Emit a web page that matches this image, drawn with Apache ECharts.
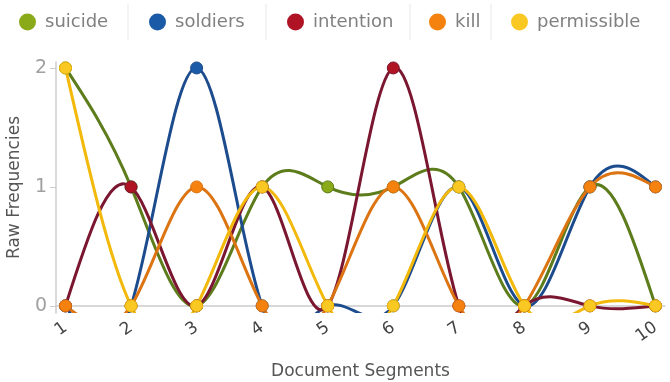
<!DOCTYPE html>
<html>
<head>
<meta charset="utf-8">
<script src="https://cdn.jsdelivr.net/npm/echarts@6/dist/echarts.min.js"></script>
<style>
  html, body { margin: 0; padding: 0; background: #fff; }
  #chart { width: 670px; height: 382px; }
</style>
</head>
<body>
<div id="chart"></div>
<script>
const segments = [1, 2, 3, 4, 5, 6, 7, 8, 9, 10];
const yTicks = [0, 1, 2];

const suicide = [2, 1, 0, 1, 1, 1, 1, 0, 1, 0];
const soldiers = [0, 0, 2, 0, 0, 0, 1, 0, 1, 1];
const intention = [0, 1, 0, 1, 0, 2, 0, 0, 0, 0];
const kill = [0, 0, 1, 0, 0, 1, 0, 0, 1, 1];
const permissible = [2, 0, 0, 1, 0, 0, 1, 0, 0, 0];

const seriesDefs = [
  { name: 'suicide', data: suicide, dot: '#8aaa1a', line: '#5d7c1c', left: 14 },
  { name: 'soldiers', data: soldiers, dot: '#1a5aa6', line: '#1c4c8e', left: 144 },
  { name: 'intention', data: intention, dot: '#b01424', line: '#7a1630', left: 282 },
  { name: 'kill', data: kill, dot: '#f5820e', line: '#dc7412', left: 424 },
  { name: 'permissible', data: permissible, dot: '#f9c823', line: '#f2b90a', left: 506 }
];

// natural cubic spline control points (same scheme as d3.curveNatural)
function controlPoints(x) {
  const n = x.length - 1;
  const a = new Array(n), b = new Array(n), r = new Array(n);
  a[0] = 0; b[0] = 2; r[0] = x[0] + 2 * x[1];
  for (let i = 1; i < n - 1; ++i) { a[i] = 1; b[i] = 4; r[i] = 4 * x[i] + 2 * x[i + 1]; }
  a[n - 1] = 2; b[n - 1] = 7; r[n - 1] = 8 * x[n - 1] + x[n];
  for (let i = 1; i < n; ++i) { const m = a[i] / b[i - 1]; b[i] -= m; r[i] -= m * r[i - 1]; }
  a[n - 1] = r[n - 1] / b[n - 1];
  for (let i = n - 2; i >= 0; --i) a[i] = (r[i] - a[i + 1]) / b[i];
  b[n - 1] = (x[n] + a[n - 1]) / 2;
  for (let i = 0; i < n - 1; ++i) b[i] = 2 * x[i + 1] - a[i + 1];
  return [a, b];
}

const chart = echarts.init(document.getElementById('chart'), null, { renderer: 'canvas' });
const font = '"DejaVu Sans", sans-serif';

const lineSeries = seriesDefs.map(s => {
  const cx = controlPoints(segments);
  const cy = controlPoints(s.data);
  return {
    name: s.name,
    type: 'custom',
    clip: true,
    z: 2,
    data: s.data.slice(0, -1).map((v, i) => [segments[i], v]),
    renderItem: (params, api) => {
      const i = params.dataIndex;
      const p0 = api.coord([segments[i], s.data[i]]);
      const p1 = api.coord([segments[i + 1], s.data[i + 1]]);
      const c1 = api.coord([cx[0][i], cy[0][i]]);
      const c2 = api.coord([cx[1][i], cy[1][i]]);
      return {
        type: 'bezierCurve',
        shape: { x1: p0[0], y1: p0[1], x2: p1[0], y2: p1[1],
                 cpx1: c1[0], cpy1: c1[1], cpx2: c2[0], cpy2: c2[1] },
        style: { stroke: s.line, lineWidth: 3, fill: null, lineCap: 'round' },
        silent: true
      };
    }
  };
});

const dotSeries = seriesDefs.map(s => ({
  name: s.name,
  type: 'scatter',
  z: 3,
  symbol: 'circle',
  symbolSize: 12,
  data: s.data.map((v, i) => [segments[i], v]),
  itemStyle: { color: s.dot, borderColor: s.line, borderWidth: 1, opacity: 1 }
}));

const option = {
  animation: false,
  backgroundColor: '#fff',
  textStyle: { fontFamily: font },
  legend: seriesDefs.map(s => ({
    top: 8,
    left: s.left,
    itemWidth: 17,
    itemHeight: 17,
    itemGap: 0,
    icon: 'circle',
    textStyle: { fontSize: 18, color: '#808080', fontFamily: font, padding: [0, 0, 0, 4] },
    data: [{ name: s.name, itemStyle: { color: s.dot } }]
  })),
  graphic: [128, 266, 410, 491].map(x => ({
    type: 'line',
    shape: { x1: x, y1: 4, x2: x, y2: 40 },
    style: { stroke: '#e8e8e8', lineWidth: 1 }
  })),
  grid: { left: 56, right: 5, top: 62, bottom: 69, outerBoundsMode: 'none' },
  xAxis: {
    type: 'value',
    min: 0.855,
    max: 10.145,
    name: 'Document Segments',
    nameLocation: 'middle',
    nameGap: 50,
    nameTextStyle: { fontSize: 17, color: '#555', fontFamily: font },
    axisLine: { lineStyle: { color: '#cccccc', width: 1.5 } },
    axisTick: { customValues: segments, length: 6, lineStyle: { color: '#cccccc' } },
    axisLabel: {
      customValues: segments,
      rotate: 35,
      fontSize: 17,
      color: '#444',
      margin: 13,
      fontFamily: font
    },
    splitLine: { show: false }
  },
  yAxis: {
    type: 'value',
    min: -0.06,
    max: 2.05,
    name: 'Raw Frequencies',
    nameLocation: 'middle',
    nameGap: 33,
    nameTextStyle: { fontSize: 17, color: '#555', fontFamily: font },
    axisLine: { show: true, lineStyle: { color: '#cccccc', width: 1.5 } },
    axisTick: { show: true, customValues: yTicks, length: 6, lineStyle: { color: '#cccccc' } },
    axisLabel: { customValues: yTicks, fontSize: 19, color: '#a0a0a0', margin: 9, fontFamily: font },
    splitLine: { show: false }
  },
  series: lineSeries.concat(dotSeries)
};

chart.setOption(option);
</script>
</body>
</html>
